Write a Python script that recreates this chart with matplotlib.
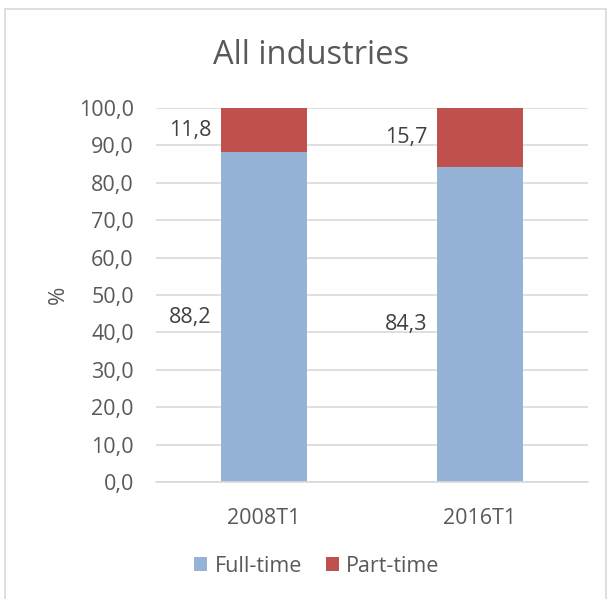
import matplotlib.pyplot as plt
from matplotlib.patches import Rectangle

periods = ["2008T1", "2016T1"]
full_time = [88.2, 84.3]
part_time = [11.8, 15.7]
yticks = [0, 10, 20, 30, 40, 50, 60, 70, 80, 90, 100]

blue = "#95B3D7"
red = "#C0504D"
grey = "#595959"

plt.rcParams["font.family"] = ["Open Sans", "DejaVu Sans"]

fig = plt.figure(figsize=(6.11, 5.99), dpi=100)
ax = fig.add_axes([156/611, 1-482/599, (588-156)/611, (482-108)/599])

x = list(range(len(periods)))
ax.bar(x, full_time, width=0.4, color=blue, label="Full-time", zorder=2)
ax.bar(x, part_time, width=0.4, bottom=full_time, color=red, label="Part-time", zorder=2)

for i in x:
    ax.annotate(f"{full_time[i]:.1f}".replace(".", ","), xy=(i-0.2, full_time[i]/2),
                xytext=(-7, 0), textcoords="offset points", ha="right", va="center",
                fontsize=15.5, color="#404040")
    ax.annotate(f"{part_time[i]:.1f}".replace(".", ","), xy=(i-0.2, full_time[i]+part_time[i]/2),
                xytext=(-7, 0), textcoords="offset points", ha="right", va="center",
                fontsize=15.5, color="#404040")

ax.set_xlim(-0.5, 1.5)
ax.set_ylim(0, 100)
ax.set_yticks(yticks)
ax.set_yticklabels([f"{v:.1f}".replace(".", ",") for v in yticks], fontsize=15.5, color=grey)
ax.set_xticks(x)
ax.set_xticklabels(periods, fontsize=15.5, color=grey)
ax.tick_params(axis="y", length=0, pad=16)
ax.tick_params(axis="x", length=0, pad=19)
ax.yaxis.grid(True, color="#D9D9D9", linewidth=1.2, zorder=0)
ax.set_axisbelow(True)
for s in ["top", "right", "left"]:
    ax.spines[s].set_visible(False)
ax.spines["bottom"].set_color("#D9D9D9")
ax.spines["bottom"].set_linewidth(1.2)

ax.set_ylabel("%", fontsize=16, color=grey, labelpad=7)

fig.text(311/611, 1-55/599, "All industries", ha="center", va="center", fontsize=23.5, color=grey)

fig.legend(loc="center", bbox_to_anchor=(317/611, 1-566/599), ncol=2, frameon=False,
           fontsize=15.5, handlelength=0.6, handleheight=0.6, handletextpad=0.35,
           columnspacing=1.1, labelcolor=grey)

fig.patches.append(Rectangle((5/611, -0.01), 601/611, 1.01-9/599, transform=fig.transFigure,
                             fill=False, edgecolor="#D9D9D9", linewidth=1.2))

fig.savefig("out.png", dpi=100)
